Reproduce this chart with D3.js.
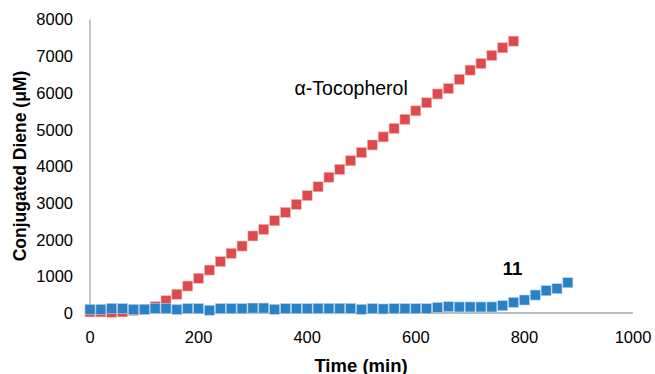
<!DOCTYPE html>
<html>
<head>
<meta charset="utf-8">
<script src="https://cdn.jsdelivr.net/npm/d3@7"></script>
<style>
  html, body { margin: 0; padding: 0; background: #fff; }
  svg { display: block; }
</style>
</head>
<body>
<svg id="chart" width="655" height="374"></svg>
<script>
// ---- data ----
const tocoTime = [0,20,40,60,80,100,120,140,160,180,200,220,240,260,280,300,320,340,360,380,
  400,420,440,460,480,500,520,540,560,580,600,620,640,660,680,700,720,740,760,780];
const tocoValues = [30,30,20,30,70,100,170,335,510,735,945,1170,1400,1625,1825,2100,2280,2515,2745,2960,
  3200,3440,3700,3915,4150,4370,4580,4800,5030,5280,5510,5730,5970,6120,6370,6620,6800,7020,7230,7410];
const cmpTime = [0,20,40,60,80,100,120,140,160,180,200,220,240,260,280,300,320,340,360,380,
  400,420,440,460,480,500,520,540,560,580,600,620,640,660,680,700,720,740,760,780,800,820,840,860,880];
const cmpValues = [100,100,125,120,100,100,120,120,95,120,120,75,120,120,120,135,135,100,118,118,
  118,125,125,125,125,100,118,110,118,118,118,118,150,172,165,165,165,165,200,290,354,490,608,662,825];
const xTicks = [0,200,400,600,800,1000];
const yTicks = [0,1000,2000,3000,4000,5000,6000,7000,8000];
const seriesLabels = ["α-Tocopherol", "11"];
const xTitle = "Time (min)";
const yTitle = "Conjugated Diene (μM)";

// ---- layout ----
const W = 655, H = 374;
const m = {left: 90, right: 22, top: 19.5, bottom: 61};
const svg = d3.select("#chart");
const x = d3.scaleLinear().domain([0, 1000]).range([m.left, W - m.right]);
const y = d3.scaleLinear().domain([0, 8000]).range([H - m.bottom, m.top]);
const font = "'Liberation Sans', Arial, sans-serif";
const axisColor = "#a6a6a6";

// axes lines
svg.append("line").attr("x1", x(0)).attr("x2", x(0)).attr("y1", y(8000)).attr("y2", y(0))
  .attr("stroke", axisColor).attr("stroke-width", 1.3);
svg.append("line").attr("x1", x(0)).attr("x2", x(1000)).attr("y1", y(0)).attr("y2", y(0))
  .attr("stroke", axisColor).attr("stroke-width", 1.3);

// y tick labels
svg.append("g").selectAll("text").data(yTicks).join("text")
  .attr("x", x(0) - 17).attr("y", d => y(d)).attr("dy", "0.36em")
  .attr("text-anchor", "end").attr("font-family", font).attr("font-size", 16.5)
  .attr("fill", "#000").text(d => d);

// x tick labels
svg.append("g").selectAll("text").data(xTicks).join("text")
  .attr("x", d => x(d)).attr("y", y(0) + 29.5)
  .attr("text-anchor", "middle").attr("font-family", font).attr("font-size", 16.5)
  .attr("fill", "#000").text(d => d);

// axis titles
svg.append("text").attr("x", 361).attr("y", 371.5).attr("text-anchor", "middle")
  .attr("font-family", font).attr("font-size", 18.5).attr("font-weight", "bold").text(xTitle);
svg.append("text").attr("transform", "translate(25.5,166) rotate(-90)").attr("text-anchor", "middle")
  .attr("font-family", font).attr("font-size", 17.5).attr("font-weight", "bold").text(yTitle);

// markers
const s = 10;
svg.append("g").selectAll("rect").data(tocoTime.map((t, i) => [t, tocoValues[i]])).join("rect")
  .attr("x", d => x(d[0]) - s / 2).attr("y", d => y(d[1]) - s / 2)
  .attr("width", s).attr("height", s).attr("fill", "#de4a4b")
  .attr("stroke", "#f3b4b4").attr("stroke-width", 0.6);
svg.append("g").selectAll("rect").data(cmpTime.map((t, i) => [t, cmpValues[i]])).join("rect")
  .attr("x", d => x(d[0]) - s / 2).attr("y", d => y(d[1]) - s / 2)
  .attr("width", s).attr("height", s).attr("fill", "#2a82c6")
  .attr("stroke", "#b3d3ee").attr("stroke-width", 0.6);

// series labels
svg.append("text").attr("x", x(481)).attr("y", y(6120)).attr("dy", "0.36em")
  .attr("text-anchor", "middle").attr("font-family", font).attr("font-size", 19.5)
  .attr("fill", "#000").text(seriesLabels[0]);
svg.append("text").attr("x", x(778)).attr("y", y(1225)).attr("dy", "0.36em")
  .attr("text-anchor", "middle").attr("font-family", font).attr("font-size", 18.5)
  .attr("font-weight", "bold").attr("fill", "#000").text(seriesLabels[1]);
</script>
</body>
</html>
